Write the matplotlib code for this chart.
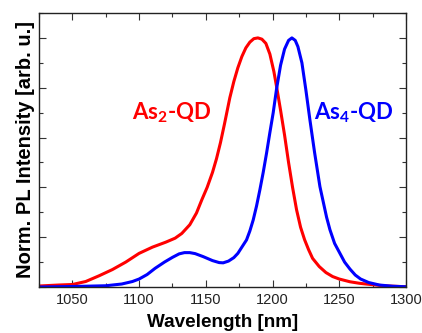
import matplotlib
matplotlib.use("Agg")
import matplotlib.pyplot as plt
from matplotlib.ticker import MultipleLocator, NullFormatter

# Data
red_nm = [1025, 1040, 1050, 1060, 1070, 1080, 1090, 1100, 1110, 1120, 1127, 1132,
          1138, 1143, 1147, 1151, 1155, 1158, 1161, 1164, 1168, 1171, 1174, 1177,
          1180, 1183, 1186, 1189, 1192, 1195, 1198, 1201, 1203, 1206, 1209, 1212,
          1215, 1218, 1221, 1224, 1227, 1230, 1235, 1240, 1245, 1250, 1258, 1265,
          1270, 1283, 1300]
red_val = [0.004, 0.008, 0.010, 0.022, 0.045, 0.070, 0.100, 0.135, 0.160, 0.180, 0.196, 0.215,
           0.250, 0.297, 0.350, 0.400, 0.460, 0.515, 0.580, 0.655, 0.760, 0.825, 0.880, 0.925,
           0.960, 0.983, 0.997, 1.000, 0.995, 0.978, 0.935, 0.865, 0.805, 0.710, 0.610, 0.500,
           0.400, 0.310, 0.240, 0.190, 0.150, 0.115, 0.082, 0.058, 0.042, 0.032, 0.021, 0.015,
           0.012, 0.005, 0.001]

blue_nm = [1025, 1050, 1075, 1087, 1095, 1100, 1106, 1112, 1119, 1125, 1130, 1134,
           1138, 1142, 1148, 1155, 1160, 1163, 1167, 1171, 1174, 1177, 1180.5, 1183,
           1185.5, 1188, 1190.5, 1193, 1195.5, 1198, 1200.5, 1203, 1206, 1209, 1212,
           1214.5, 1217, 1219, 1222, 1225, 1228, 1231.5, 1235.5, 1240.5, 1243, 1246.5,
           1250.5, 1254, 1258, 1262, 1266, 1272, 1280, 1290, 1300]
blue_val = [0.000, 0.002, 0.005, 0.012, 0.022, 0.032, 0.050, 0.075, 0.100, 0.119, 0.133, 0.138,
            0.138, 0.134, 0.122, 0.106, 0.098, 0.097, 0.104, 0.118, 0.135, 0.160, 0.189, 0.225,
            0.269, 0.325, 0.390, 0.460, 0.537, 0.620, 0.700, 0.795, 0.890, 0.955, 0.990,
            1.000, 0.990, 0.965, 0.900, 0.790, 0.671, 0.540, 0.403, 0.280, 0.230, 0.175,
            0.135, 0.100, 0.072, 0.048, 0.032, 0.018, 0.008, 0.003, 0.001]

xticks = [1050, 1100, 1150, 1200, 1250, 1300]
labels = ["As$_\\mathrm{2}$-QD", "As$_\\mathrm{4}$-QD"]

plt.rcParams['mathtext.fontset'] = 'custom'
plt.rcParams['mathtext.rm'] = 'Lato:bold'
plt.rcParams['mathtext.it'] = 'Lato:bold'
plt.rcParams['mathtext.bf'] = 'Lato:bold'

fig = plt.figure(figsize=(4.22, 3.33), dpi=100)
ax = fig.add_axes([39/422, 46/333, 367/422, 274/333])

ax.plot(red_nm, red_val, color='#ff0000', lw=2.2, solid_capstyle='round')
ax.plot(blue_nm, blue_val, color='#0000ff', lw=2.2, solid_capstyle='round')

ax.set_xlim(1025, 1300)
ax.set_ylim(0, 1.1)
ax.set_xticks(xticks)
ax.set_xticklabels([str(t) for t in xticks], family='Liberation Sans', fontsize=10.5, color='#222222')
ax.xaxis.set_minor_locator(MultipleLocator(25))
ax.yaxis.set_major_locator(MultipleLocator(0.2))
ax.yaxis.set_minor_locator(MultipleLocator(0.1))
ax.yaxis.set_major_formatter(NullFormatter())
ax.tick_params(which='both', direction='in', top=True, right=True, width=0.8, color='#333333')
ax.tick_params(which='major', length=5, pad=4)
ax.tick_params(which='minor', length=3)
for s in ax.spines.values():
    s.set_linewidth(1.0)
    s.set_color('#222222')

ax.set_xlabel("Wavelength [nm]", family='Liberation Sans', fontweight='bold', fontsize=13.6, labelpad=5.5)
ax.set_ylabel("Norm. PL Intensity [arb. u.]", family='Liberation Sans', fontweight='bold', fontsize=14.5, labelpad=-1)

ax.text(1124.6, 0.70, labels[0], color='#ff0000', family='Lato', fontweight='bold',
        fontsize=16, ha='center', va='center')
ax.text(1261, 0.70, labels[1], color='#0000ff', family='Lato', fontweight='bold',
        fontsize=16, ha='center', va='center')

fig.savefig("out.png", dpi=100)
